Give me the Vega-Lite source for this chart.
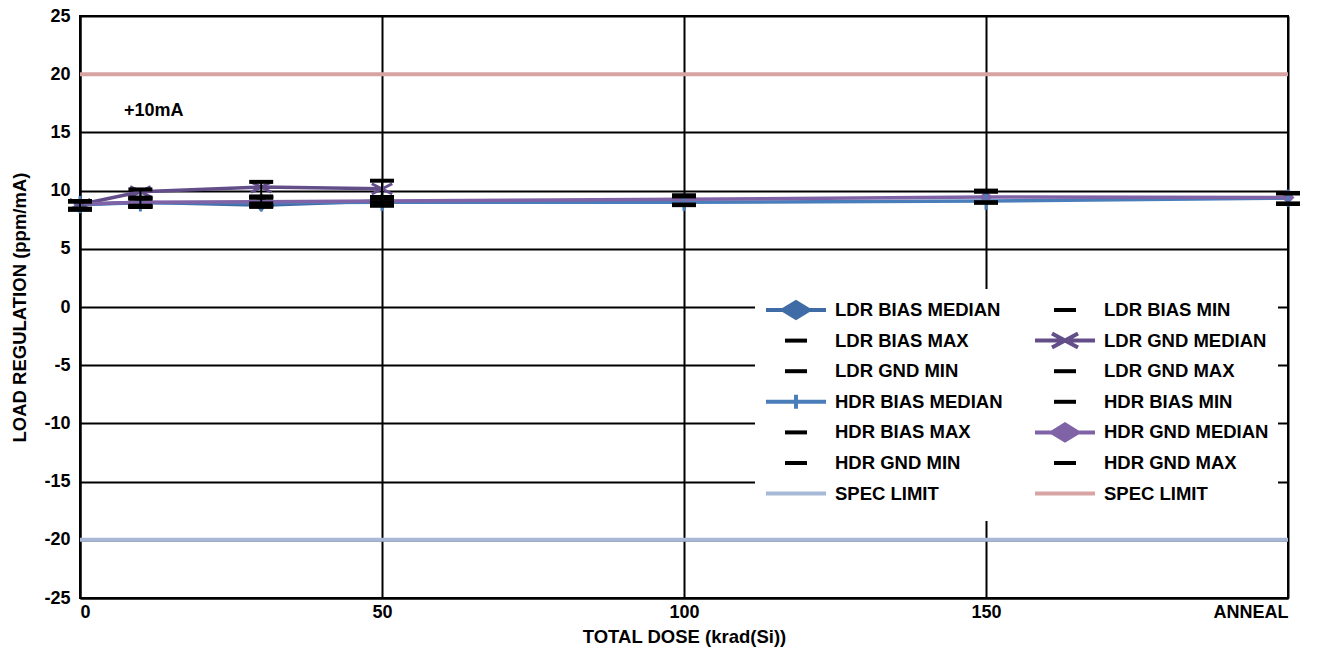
{
  "$schema": "https://vega.github.io/schema/vega-lite/v6.json",
  "width": 1208,
  "height": 582,
  "autosize": {"type": "none"},
  "padding": {"left": 80, "top": 16, "right": 43, "bottom": 52},
  "background": "white",
  "config": {
    "font": "Liberation Sans",
    "view": {"stroke": "black", "strokeWidth": 2},
    "axis": {
      "labelFont": "Liberation Sans", "labelFontWeight": "bold", "labelFontSize": 18, "labelColor": "black",
      "titleFont": "Liberation Sans", "titleFontWeight": "bold", "titleFontSize": 18.5, "titleColor": "black",
      "grid": true, "gridColor": "black", "gridWidth": 2, "gridOpacity": 1,
      "domain": true, "domainColor": "black", "domainWidth": 2,
      "ticks": false
    }
  },
  "datasets": {
    "med": [
      {"series": "LDR BIAS MEDIAN", "dose": 0, "val": 8.8},
      {"series": "LDR BIAS MEDIAN", "dose": 10, "val": 9.0},
      {"series": "LDR BIAS MEDIAN", "dose": 30, "val": 8.75},
      {"series": "LDR BIAS MEDIAN", "dose": 50, "val": 9.1},
      {"series": "LDR GND MEDIAN", "dose": 0, "val": 8.8},
      {"series": "LDR GND MEDIAN", "dose": 10, "val": 9.9},
      {"series": "LDR GND MEDIAN", "dose": 30, "val": 10.3},
      {"series": "LDR GND MEDIAN", "dose": 50, "val": 10.15},
      {"series": "HDR BIAS MEDIAN", "dose": 0, "val": 8.8},
      {"series": "HDR BIAS MEDIAN", "dose": 10, "val": 8.95},
      {"series": "HDR BIAS MEDIAN", "dose": 30, "val": 8.95},
      {"series": "HDR BIAS MEDIAN", "dose": 50, "val": 9.0},
      {"series": "HDR BIAS MEDIAN", "dose": 100, "val": 9.0},
      {"series": "HDR BIAS MEDIAN", "dose": 150, "val": 9.1},
      {"series": "HDR BIAS MEDIAN", "dose": 200, "val": 9.35},
      {"series": "HDR GND MEDIAN", "dose": 0, "val": 8.85},
      {"series": "HDR GND MEDIAN", "dose": 10, "val": 9.0},
      {"series": "HDR GND MEDIAN", "dose": 30, "val": 9.05},
      {"series": "HDR GND MEDIAN", "dose": 50, "val": 9.1},
      {"series": "HDR GND MEDIAN", "dose": 100, "val": 9.25},
      {"series": "HDR GND MEDIAN", "dose": 150, "val": 9.45},
      {"series": "HDR GND MEDIAN", "dose": 200, "val": 9.4}
    ],
    "mm": [
      {"series": "LDR BIAS MIN", "dose": 0, "val": 8.4},
      {"series": "LDR BIAS MIN", "dose": 10, "val": 8.6},
      {"series": "LDR BIAS MIN", "dose": 30, "val": 8.6},
      {"series": "LDR BIAS MIN", "dose": 50, "val": 8.7},
      {"series": "LDR BIAS MAX", "dose": 0, "val": 9.1},
      {"series": "LDR BIAS MAX", "dose": 10, "val": 9.4},
      {"series": "LDR BIAS MAX", "dose": 30, "val": 9.5},
      {"series": "LDR BIAS MAX", "dose": 50, "val": 9.4},
      {"series": "LDR GND MIN", "dose": 0, "val": 8.45},
      {"series": "LDR GND MIN", "dose": 10, "val": 8.7},
      {"series": "LDR GND MIN", "dose": 30, "val": 8.9},
      {"series": "LDR GND MIN", "dose": 50, "val": 9.0},
      {"series": "LDR GND MAX", "dose": 0, "val": 9.1},
      {"series": "LDR GND MAX", "dose": 10, "val": 10.1},
      {"series": "LDR GND MAX", "dose": 30, "val": 10.75},
      {"series": "LDR GND MAX", "dose": 50, "val": 10.85},
      {"series": "HDR BIAS MIN", "dose": 0, "val": 8.35},
      {"series": "HDR BIAS MIN", "dose": 10, "val": 8.6},
      {"series": "HDR BIAS MIN", "dose": 30, "val": 8.7},
      {"series": "HDR BIAS MIN", "dose": 50, "val": 8.75},
      {"series": "HDR BIAS MIN", "dose": 100, "val": 8.75},
      {"series": "HDR BIAS MIN", "dose": 150, "val": 8.95},
      {"series": "HDR BIAS MIN", "dose": 200, "val": 8.85},
      {"series": "HDR BIAS MAX", "dose": 0, "val": 9.05},
      {"series": "HDR BIAS MAX", "dose": 10, "val": 9.3},
      {"series": "HDR BIAS MAX", "dose": 30, "val": 9.4},
      {"series": "HDR BIAS MAX", "dose": 50, "val": 9.3},
      {"series": "HDR BIAS MAX", "dose": 100, "val": 9.5},
      {"series": "HDR BIAS MAX", "dose": 150, "val": 9.9},
      {"series": "HDR BIAS MAX", "dose": 200, "val": 9.75},
      {"series": "HDR GND MIN", "dose": 0, "val": 8.4},
      {"series": "HDR GND MIN", "dose": 10, "val": 8.65},
      {"series": "HDR GND MIN", "dose": 30, "val": 8.7},
      {"series": "HDR GND MIN", "dose": 50, "val": 8.8},
      {"series": "HDR GND MIN", "dose": 100, "val": 8.8},
      {"series": "HDR GND MIN", "dose": 150, "val": 9.0},
      {"series": "HDR GND MIN", "dose": 200, "val": 8.9},
      {"series": "HDR GND MAX", "dose": 0, "val": 9.1},
      {"series": "HDR GND MAX", "dose": 10, "val": 9.35},
      {"series": "HDR GND MAX", "dose": 30, "val": 9.4},
      {"series": "HDR GND MAX", "dose": 50, "val": 9.45},
      {"series": "HDR GND MAX", "dose": 100, "val": 9.6},
      {"series": "HDR GND MAX", "dose": 150, "val": 10.0},
      {"series": "HDR GND MAX", "dose": 200, "val": 9.8}
    ],
    "spec": [
      {"series": "SPEC LIMIT", "val": -20},
      {"series": "SPEC LIMIT ", "val": 20}
    ],
    "stems": [
      {"dose": 0, "lo": 8.45, "hi": 9.1},
      {"dose": 10, "lo": 8.7, "hi": 10.1},
      {"dose": 30, "lo": 8.9, "hi": 10.75},
      {"dose": 50, "lo": 9.0, "hi": 10.85}
    ],
    "note": [
      {"dose": 12.2, "val": 16.85, "label": "+10mA"}
    ]
  },
  "layer": [
    {
      "data": {"name": "med"},
      "mark": {"type": "line", "strokeWidth": 3.5},
      "encoding": {
        "x": {
          "field": "dose", "type": "quantitative",
          "scale": {"domain": [0, 200], "nice": false, "zero": false},
          "axis": {
            "values": [0, 50, 100, 150, 200],
            "labelExpr": "datum.value === 200 ? 'ANNEAL' : datum.label",
            "labelPadding": 5,
            "title": "TOTAL DOSE (krad(Si))", "titlePadding": 6
          }
        },
        "y": {
          "field": "val", "type": "quantitative",
          "scale": {"domain": [-25, 25], "nice": false, "zero": false},
          "axis": {
            "values": [-25, -20, -15, -10, -5, 0, 5, 10, 15, 20, 25],
            "labelExpr": "'' + datum.value",
            "labelPadding": 10,
            "title": "LOAD REGULATION (ppm/mA)", "titlePadding": 14
          }
        },
        "color": {
          "field": "series", "type": "nominal",
          "scale": {
            "domain": ["LDR BIAS MEDIAN", "LDR BIAS MAX", "LDR GND MIN", "HDR BIAS MEDIAN", "HDR BIAS MAX", "HDR GND MIN", "SPEC LIMIT", "LDR BIAS MIN", "LDR GND MEDIAN", "LDR GND MAX", "HDR BIAS MIN", "HDR GND MEDIAN", "HDR GND MAX", "SPEC LIMIT "],
            "range": ["#3F6BA6", "#000000", "#000000", "#4A7EBB", "#000000", "#000000", "#A7B9D7", "#000000", "#634E8A", "#000000", "#000000", "#7F63A6", "#000000", "#D8A3A3"]
          },
          "legend": {
            "orient": "none", "legendX": 675, "legendY": 273,
            "columns": 2, "title": null,
            "symbolSize": 400, "symbolStrokeWidth": 4,
            "labelFont": "Liberation Sans", "labelFontWeight": "bold", "labelFontSize": 18.5, "labelColor": "black",
            "labelOffset": 47, "labelLimit": 400,
            "columnPadding": 24, "rowPadding": -5.4, "padding": 9,
            "fillColor": "white",
            "encode": {
              "symbols": {
                "update": {
                  "shape": {"scale": "shape", "field": "value"},
                  "fill": {"scale": "color", "field": "value"},
                  "stroke": {"scale": "color", "field": "value"}
                }
              }
            }
          }
        }
      }
    },
    {
      "data": {"name": "med"},
      "transform": [{"filter": "false"}],
      "mark": {"type": "point", "filled": false},
      "encoding": {
        "x": {"field": "dose", "type": "quantitative"},
        "y": {"field": "val", "type": "quantitative"},
        "color": {"field": "series", "type": "nominal"},
        "shape": {
          "field": "series", "type": "nominal",
          "scale": {
            "domain": ["LDR BIAS MEDIAN", "LDR BIAS MAX", "LDR GND MIN", "HDR BIAS MEDIAN", "HDR BIAS MAX", "HDR GND MIN", "SPEC LIMIT", "LDR BIAS MIN", "LDR GND MEDIAN", "LDR GND MAX", "HDR BIAS MIN", "HDR GND MEDIAN", "HDR GND MAX", "SPEC LIMIT "],
            "range": [
              "M2,-1L2,-1M2,1L2,1M-1,0H5M0.7,0L2,-0.8L3.3,0L2,0.8Z",
              "M2,-1L2,-1M2,1L2,1M0.9,0H3.1",
              "M2,-1L2,-1M2,1L2,1M0.9,0H3.1",
              "M2,-1L2,-1M2,1L2,1M-1,0H5M2,-0.7V0.7",
              "M2,-1L2,-1M2,1L2,1M0.9,0H3.1",
              "M2,-1L2,-1M2,1L2,1M0.9,0H3.1",
              "M2,-1L2,-1M2,1L2,1M-1,0H5",
              "M2,-1L2,-1M2,1L2,1M0.9,0H3.1",
              "M2,-1L2,-1M2,1L2,1M-1,0H5M0.7,-0.7L3.3,0.7M0.7,0.7L3.3,-0.7",
              "M2,-1L2,-1M2,1L2,1M0.9,0H3.1",
              "M2,-1L2,-1M2,1L2,1M0.9,0H3.1",
              "M2,-1L2,-1M2,1L2,1M-1,0H5M0.7,0L2,-0.8L3.3,0L2,0.8Z",
              "M2,-1L2,-1M2,1L2,1M0.9,0H3.1",
              "M2,-1L2,-1M2,1L2,1M-1,0H5"
            ]
          },
          "legend": null
        }
      }
    },
    {
      "data": {"name": "spec"},
      "mark": {"type": "rule", "strokeWidth": 4},
      "encoding": {
        "y": {"field": "val", "type": "quantitative"},
        "color": {"field": "series", "type": "nominal"}
      }
    },
    {
      "data": {"name": "med"},
      "transform": [{"filter": "datum.series === 'LDR BIAS MEDIAN' || datum.series === 'HDR GND MEDIAN'"}],
      "mark": {"type": "point", "shape": "diamond", "filled": true, "size": 170, "opacity": 1},
      "encoding": {
        "x": {"field": "dose", "type": "quantitative"},
        "y": {"field": "val", "type": "quantitative"},
        "color": {"field": "series", "type": "nominal"}
      }
    },
    {
      "data": {"name": "med"},
      "transform": [{"filter": "datum.series === 'LDR GND MEDIAN'"}],
      "mark": {"type": "point", "shape": "M-1,-0.5L1,0.5M-1,0.5L1,-0.5", "filled": false, "size": 420, "strokeWidth": 3, "opacity": 1},
      "encoding": {
        "x": {"field": "dose", "type": "quantitative"},
        "y": {"field": "val", "type": "quantitative"},
        "color": {"field": "series", "type": "nominal"}
      }
    },
    {
      "data": {"name": "med"},
      "transform": [{"filter": "datum.series === 'HDR BIAS MEDIAN'"}],
      "mark": {"type": "point", "shape": "M0,-1V1", "filled": false, "size": 300, "strokeWidth": 3, "opacity": 1},
      "encoding": {
        "x": {"field": "dose", "type": "quantitative"},
        "y": {"field": "val", "type": "quantitative"},
        "color": {"field": "series", "type": "nominal"}
      }
    },
    {
      "data": {"name": "stems"},
      "mark": {"type": "rule", "color": "black", "strokeWidth": 2},
      "encoding": {
        "x": {"field": "dose", "type": "quantitative"},
        "y": {"field": "lo", "type": "quantitative"},
        "y2": {"field": "hi"}
      }
    },
    {
      "data": {"name": "mm"},
      "mark": {"type": "tick", "orient": "horizontal", "size": 24, "thickness": 4, "opacity": 1},
      "encoding": {
        "x": {"field": "dose", "type": "quantitative"},
        "y": {"field": "val", "type": "quantitative"},
        "color": {"field": "series", "type": "nominal"}
      }
    },
    {
      "data": {"name": "note"},
      "mark": {"type": "text", "font": "Liberation Sans", "fontWeight": "bold", "fontSize": 18, "color": "black"},
      "encoding": {
        "x": {"field": "dose", "type": "quantitative"},
        "y": {"field": "val", "type": "quantitative"},
        "text": {"field": "label"}
      }
    }
  ]
}
